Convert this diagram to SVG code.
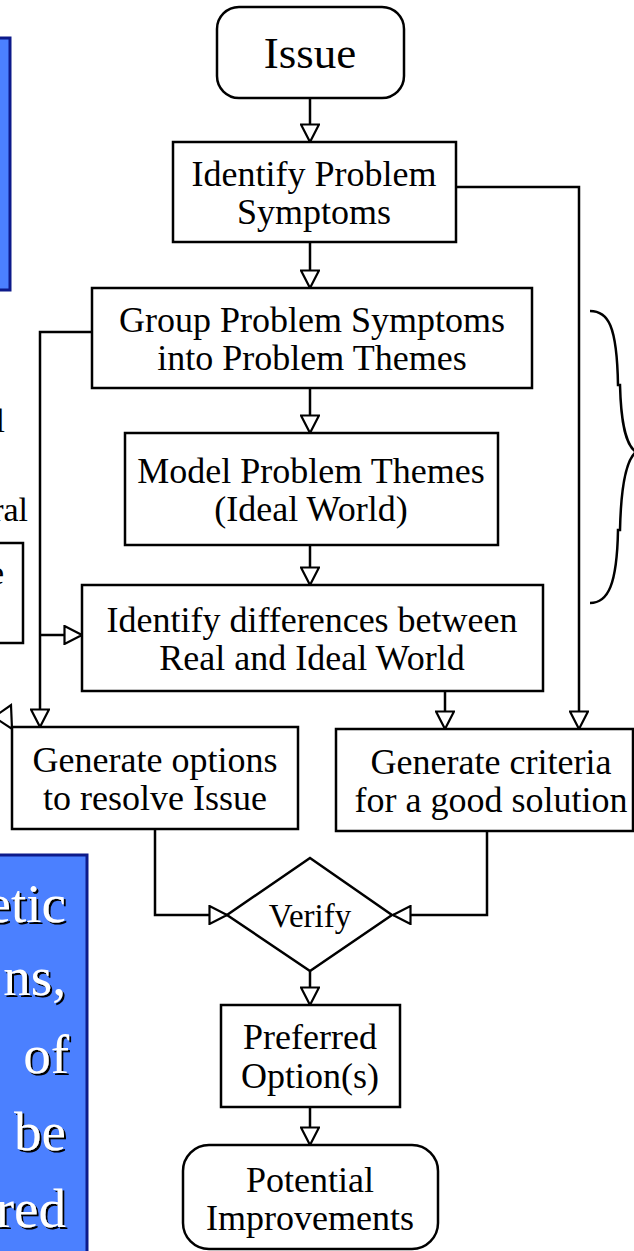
<svg xmlns="http://www.w3.org/2000/svg" width="634" height="1251" viewBox="0 0 634 1251">
<defs>
<style>
.box{fill:#fff;stroke:#000;stroke-width:2.5}
.t{font-family:"Liberation Serif","Times New Roman",serif;font-size:36px;fill:#000;text-anchor:middle}
.c{fill:none;stroke:#000;stroke-width:2.5}
.blue{fill:#4b80ff;stroke:#0d1a8a;stroke-width:3}
.w{font-family:"Liberation Serif","Times New Roman",serif;font-size:55px;fill:#fff;text-anchor:end}
.frag{font-family:"Liberation Serif","Times New Roman",serif;font-size:34px;fill:#000;text-anchor:end}
</style>
<marker id="arr" viewBox="0 0 20 20" refX="19" refY="10" markerWidth="20" markerHeight="20" markerUnits="userSpaceOnUse" orient="auto">
<path d="M1.5,1 L19,10 L1.5,19 Z" fill="#fff" stroke="#000" stroke-width="2.2"/>
</marker>
<filter id="sh" x="-10%" y="-10%" width="130%" height="130%">
<feDropShadow dx="2" dy="2" stdDeviation="0.4" flood-color="#000" flood-opacity="1"/>
</filter>
</defs>
<rect width="634" height="1251" fill="#fff"/>

<g id="side-top-left">
<rect class="blue" x="-10" y="38" width="20" height="252"/>
</g>
<g id="side-fragments">
<text class="frag" x="5" y="432">l</text>
<text class="frag" x="28" y="521">ral</text>
<rect class="box" x="-10" y="543" width="33" height="100"/>
<text class="frag" x="4" y="584">e</text>
<polygon points="-6,717 11,705 12,729" fill="#fff" stroke="#000" stroke-width="2.2"/>
</g>
<g id="side-bottom-left">
<rect class="blue" x="-10" y="855" width="97" height="410"/>
<g filter="url(#sh)">
<text class="w" x="66" y="922">etic</text>
<text class="w" x="66" y="995">ns,</text>
<text class="w" x="69" y="1073">of</text>
<text class="w" x="66" y="1150">be</text>
<text class="w" x="66" y="1227">red</text>
</g>
</g>

<g id="connectors">
<line class="c" x1="310" y1="98" x2="310" y2="142" marker-end="url(#arr)"/>
<line class="c" x1="310" y1="242" x2="310" y2="288" marker-end="url(#arr)"/>
<line class="c" x1="310" y1="388" x2="310" y2="433" marker-end="url(#arr)"/>
<line class="c" x1="310" y1="545" x2="310" y2="585" marker-end="url(#arr)"/>
<polyline class="c" points="456,187 579,187 579,729" marker-end="url(#arr)"/>
<polyline class="c" points="92,332 40,332 40,727" marker-end="url(#arr)"/>
<line class="c" x1="40" y1="635" x2="82" y2="635" marker-end="url(#arr)"/>
<line class="c" x1="445" y1="691" x2="445" y2="729" marker-end="url(#arr)"/>
<polyline class="c" points="155,829 155,915 227,915" marker-end="url(#arr)"/>
<polyline class="c" points="487,831 487,915 393,915" marker-end="url(#arr)"/>
<line class="c" x1="310" y1="971" x2="310" y2="1005" marker-end="url(#arr)"/>
<line class="c" x1="310" y1="1107" x2="310" y2="1145" marker-end="url(#arr)"/>
</g>

<g id="brace">
<path class="c" d="M590,311 C608,311 617,325 618,385 L620,385 C621,425 626,445 636,452 C626,460 621,485 620,530 L618,530 C617,585 608,603 590,603"/>
</g>

<g id="issue">
<rect class="box" x="217" y="7" width="187" height="91" rx="22"/>
<text class="t" x="310" y="68" style="font-size:45px">Issue</text>
</g>
<g id="identify-symptoms">
<rect class="box" x="173" y="142" width="283" height="100"/>
<text class="t" x="314" y="186">Identify Problem</text>
<text class="t" x="314" y="224">Symptoms</text>
</g>
<g id="group-symptoms">
<rect class="box" x="92" y="288" width="440" height="100"/>
<text class="t" x="312" y="332">Group Problem Symptoms</text>
<text class="t" x="312" y="370">into Problem Themes</text>
</g>
<g id="model-themes">
<rect class="box" x="125" y="433" width="373" height="112"/>
<text class="t" x="311" y="483">Model Problem Themes</text>
<text class="t" x="311" y="521">(Ideal World)</text>
</g>
<g id="identify-differences">
<rect class="box" x="82" y="585" width="461" height="106"/>
<text class="t" x="312" y="632">Identify differences between</text>
<text class="t" x="312" y="670">Real and Ideal World</text>
</g>
<g id="generate-options">
<rect class="box" x="12" y="727" width="286" height="102"/>
<text class="t" x="155" y="772">Generate options</text>
<text class="t" x="155" y="810">to resolve Issue</text>
</g>
<g id="generate-criteria">
<rect class="box" x="336" y="729" width="297" height="102"/>
<text class="t" x="491" y="774">Generate criteria</text>
<text class="t" x="491" y="812">for a good solution</text>
</g>
<g id="verify">
<polygon class="box" points="310,858 392,915 310,971 227,915"/>
<text class="t" x="310" y="927" style="font-size:33px">Verify</text>
</g>
<g id="preferred-options">
<rect class="box" x="221" y="1005" width="179" height="102"/>
<text class="t" x="310" y="1049">Preferred</text>
<text class="t" x="310" y="1088">Option(s)</text>
</g>
<g id="potential-improvements">
<rect class="box" x="183" y="1145" width="255" height="104" rx="26"/>
<text class="t" x="310" y="1192">Potential</text>
<text class="t" x="310" y="1230">Improvements</text>
</g>
</svg>
